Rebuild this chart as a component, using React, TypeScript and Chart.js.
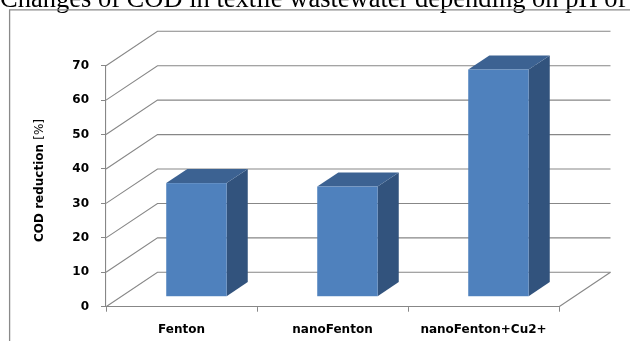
import React, { useEffect, useRef } from "react";
import { Chart, registerables } from "chart.js";

Chart.register(...registerables);

// Chart content
const titleText = "Changes of COD in textile wastewater depending on pH of";
const categories = ["Fenton", "nanoFenton", "nanoFenton+Cu2+"];
const codReduction = [33, 32, 66];
const yAxisTitleBold = "COD reduction ";
const yAxisTitleUnit = "[%]";
const yMin = 0;
const yMax = 70;
const yStep = 10;

// 3D look: depth vector of the plot box and the slab the bars occupy
const DEPTH_X = 51.5;
const DEPTH_Y = 34.4;
const BAR_FRONT = 0.29;
const BAR_BACK = 0.7;

const GRID = "#878787";
const FRONT = "#4f81bd";
const SIDE = "#32537d";
const TOP = "#3c6292";

const frame3d = {
  id: "frame3d",
  beforeDraw(chart: any) {
    const ctx = chart.ctx;
    ctx.save();
    // page heading above the chart
    ctx.fillStyle = "#000";
    ctx.font = '26.5px "Liberation Serif", "Times New Roman", serif';
    ctx.textBaseline = "alphabetic";
    ctx.textAlign = "left";
    ctx.fillText(titleText, 0, 6.5);
    // chart frame
    ctx.strokeStyle = "#8a8a8a";
    ctx.lineWidth = 1.3;
    ctx.beginPath();
    ctx.moveTo(9.6, 341);
    ctx.lineTo(9.6, 9.8);
    ctx.lineTo(630, 9.8);
    ctx.stroke();
    // y axis title, bold label followed by regular unit
    ctx.translate(40, 242);
    ctx.rotate(-Math.PI / 2);
    ctx.textBaseline = "middle";
    ctx.fillStyle = "#000";
    ctx.font = 'bold 12px "DejaVu Sans"';
    ctx.fillText(yAxisTitleBold, 0, 0);
    const w = ctx.measureText(yAxisTitleBold).width;
    ctx.font = '12px "DejaVu Sans"';
    ctx.fillText(yAxisTitleUnit, w, 0);
    ctx.restore();
  },
  beforeDatasetsDraw(chart: any) {
    const ctx = chart.ctx;
    const { left, right, bottom } = chart.chartArea;
    const ys = chart.scales.y;
    ctx.save();
    ctx.strokeStyle = GRID;
    ctx.lineWidth = 1.1;
    ys.ticks.forEach((t: any) => {
      const y = ys.getPixelForValue(t.value);
      ctx.beginPath();
      ctx.moveTo(left, y);
      ctx.lineTo(left + DEPTH_X, y - DEPTH_Y);
      ctx.lineTo(right + DEPTH_X, y - DEPTH_Y);
      ctx.stroke();
    });
    // right edge of the floor
    ctx.beginPath();
    ctx.moveTo(right, bottom);
    ctx.lineTo(right + DEPTH_X, bottom - DEPTH_Y);
    ctx.stroke();
    ctx.restore();
  },
  afterDatasetsDraw(chart: any) {
    const ctx = chart.ctx;
    const meta = chart.getDatasetMeta(0);
    const ox = BAR_FRONT * DEPTH_X;
    const oy = BAR_FRONT * DEPTH_Y;
    const bx = (BAR_BACK - BAR_FRONT) * DEPTH_X;
    const by = (BAR_BACK - BAR_FRONT) * DEPTH_Y;
    ctx.save();
    meta.data.forEach((bar: any) => {
      const p = bar.getProps(["x", "y", "base", "width"], true);
      const x0 = p.x - p.width / 2 + ox;
      const x1 = p.x + p.width / 2 + ox;
      const yt = p.y - oy;
      const yb = p.base - oy;
      // side face
      ctx.fillStyle = SIDE;
      ctx.beginPath();
      ctx.moveTo(x1, yt);
      ctx.lineTo(x1 + bx, yt - by);
      ctx.lineTo(x1 + bx, yb - by);
      ctx.lineTo(x1, yb);
      ctx.closePath();
      ctx.fill();
      // top face
      ctx.fillStyle = TOP;
      ctx.beginPath();
      ctx.moveTo(x0, yt);
      ctx.lineTo(x0 + bx, yt - by);
      ctx.lineTo(x1 + bx, yt - by);
      ctx.lineTo(x1, yt);
      ctx.closePath();
      ctx.fill();
      // front face
      ctx.fillStyle = FRONT;
      ctx.fillRect(x0, yt, x1 - x0, yb - yt);
    });
    ctx.restore();
  },
};

export default function App() {
  const canvasRef = useRef<HTMLCanvasElement | null>(null);

  useEffect(() => {
    const canvas = canvasRef.current;
    if (!canvas) return;
    const chart = new Chart(canvas, {
      type: "bar",
      data: {
        labels: categories,
        datasets: [
          {
            data: codReduction,
            backgroundColor: "rgba(0,0,0,0)",
            borderWidth: 0,
            categoryPercentage: 1,
            barPercentage: 0.4,
          },
        ],
      },
      options: {
        responsive: false,
        animation: false,
        devicePixelRatio: 1,
        layout: { padding: { left: 0, top: 65.7, right: 71, bottom: 0 } },
        plugins: {
          legend: { display: false },
          tooltip: { enabled: false },
          title: { display: false },
        },
        scales: {
          x: {
            offset: true,
            grid: {
              offset: true,
              drawOnChartArea: false,
              drawTicks: true,
              tickLength: 5,
              color: GRID,
            },
            border: { display: true, color: GRID, width: 1.1 },
            ticks: {
              color: "#000",
              padding: 11,
              maxRotation: 0,
              font: { family: '"DejaVu Sans"', size: 12, weight: "bold" },
            },
            afterFit(scale: any) {
              scale.height = 34.3;
            },
          },
          y: {
            min: yMin,
            max: yMax,
            grid: {
              drawOnChartArea: false,
              drawTicks: true,
              tickLength: 5,
              color: GRID,
            },
            border: { display: true, color: GRID, width: 1.1 },
            ticks: {
              stepSize: yStep,
              color: "#000",
              padding: 12,
              font: { family: '"DejaVu Sans"', size: 12, weight: "bold" },
            },
            afterFit(scale: any) {
              scale.width = 106;
            },
          },
        },
      },
      plugins: [frame3d],
    });
    return () => chart.destroy();
  }, []);

  return (
    <div style={{ position: "fixed", left: 0, top: 0, width: 630, height: 341, background: "#fff" }}>
      <canvas ref={canvasRef} width={630} height={341} />
    </div>
  );
}
